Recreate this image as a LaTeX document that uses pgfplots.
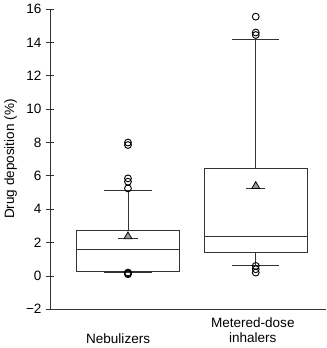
\documentclass[border=0pt]{standalone}
\usepackage{fontspec}
\setmainfont{Liberation Sans}
\usepackage{pgfplots}
\pgfplotsset{compat=1.18}
\usepgfplotslibrary{statistics}
\begin{document}
\begin{tikzpicture}
\begin{axis}[
  scale only axis,
  width=210.2pt, height=228.5pt,
  xmin=-0.61, xmax=1.55,
  ymin=-2, ymax=16,
  axis lines=left,
  axis line style={-, black!80, line width=0.6pt},
  ytick={-2,0,2,4,6,8,10,12,14,16},
  yticklabels={−2,0,2,4,6,8,10,12,14,16},
  xtick={-0.077,0.977},
  xticklabels={{\strut\\Nebulizers},{Metered-dose\\inhalers}},
  xticklabel style={align=center, font=\fontsize{10.3}{11.5}\selectfont},
  yticklabel style={font=\fontsize{10.3}{12}\selectfont},
  x tick style={draw=none},
  y tick style={black!80, line width=0.6pt},
  major tick length=6pt,
  tick align=center,
  ylabel={Drug deposition (\%)},
  ylabel style={font=\fontsize{10.3}{12}\selectfont},
  clip=false,
  boxplot/draw direction=y,
  boxplot/box extend=0.81,
  boxplot/whisker extend=0.37,
]
% Nebulizers
\addplot[black!80, line width=0.6pt, mark=o, mark size=2.6pt, mark options={black, line width=0.7pt},
  boxplot prepared={draw position=0,
    lower whisker=0.2, lower quartile=0.28, median=1.58,
    upper quartile=2.75, upper whisker=5.15}]
  table[row sep=\\, y index=0] {y\\ 8.0\\ 7.85\\ 5.85\\ 5.65\\ 5.25\\ 0.1\\ 0.15\\ 0.2\\};
% Metered-dose inhalers
\addplot[black!80, line width=0.6pt, mark=o, mark size=2.6pt, mark options={black, line width=0.7pt},
  boxplot prepared={draw position=1,
    lower whisker=0.65, lower quartile=1.38, median=2.36,
    upper quartile=6.45, upper whisker=14.2}]
  table[row sep=\\, y index=0] {y\\ 15.55\\ 14.6\\ 14.45\\ 0.6\\ 0.4\\ 0.2\\};
% mean lines
\addplot[black!80, line width=0.6pt, no marks] coordinates {(-0.075,2.22) (0.075,2.22)};
\addplot[black!80, line width=0.6pt, no marks] coordinates {(0.925,5.24) (1.075,5.24)};
% mean markers
\addplot[only marks, mark=triangle*, mark size=3.5pt, mark options={fill=black!40, draw=black, line width=0.6pt}]
  coordinates {(0,2.36) (1,5.38)};
\end{axis}
\end{tikzpicture}
\end{document}
